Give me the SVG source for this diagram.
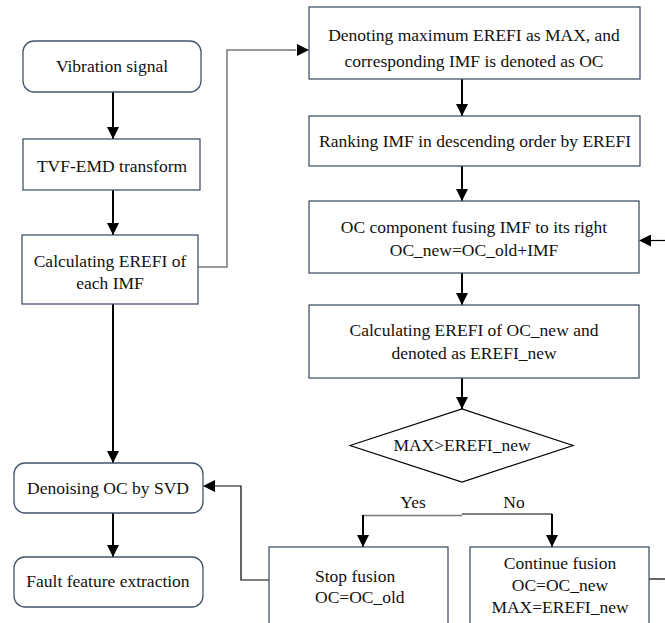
<svg xmlns="http://www.w3.org/2000/svg" width="665" height="623" viewBox="0 0 665 623">
<defs>
<marker id="ah" markerUnits="userSpaceOnUse" markerWidth="12" markerHeight="12" viewBox="0 0 12 12" refX="12" refY="6" orient="auto">
<path d="M0,0 L12,6 L0,12 z" fill="#000"/>
</marker>
</defs>
<style>
.box{fill:#fff;stroke:#44546a;stroke-width:1.3}
.t{font-size:17.5px;fill:#111;text-anchor:middle}
.tl{font-size:17.5px;fill:#111;text-anchor:start}
.a{fill:none;stroke:#000;stroke-width:2;marker-end:url(#ah)}
.g{fill:none;stroke:#7a7a7a;stroke-width:1.5}
.k{fill:none;stroke:#000;stroke-width:1.2}
</style>
<rect width="665" height="623" fill="#fff"/>
<g id="connectors">
<line class="a" x1="113" y1="92" x2="113" y2="139"/>
<line class="a" x1="113" y1="190" x2="113" y2="235"/>
<line class="a" x1="113" y1="304" x2="113" y2="463"/>
<line class="a" x1="113" y1="513" x2="113" y2="557"/>
<path class="g" d="M198,267 H227 V50 H296"/>
<line class="a" x1="290" y1="50" x2="309" y2="50" style="stroke-width:0.1"/>
<line class="a" x1="462" y1="79" x2="462" y2="116"/>
<line class="a" x1="462" y1="166" x2="462" y2="201"/>
<line class="a" x1="462" y1="273" x2="462" y2="305"/>
<line class="a" x1="462" y1="378" x2="462" y2="409"/>
<path class="g" d="M363,515.5 H462"/>
<path class="k" d="M462,514 H552"/>
<line class="a" x1="363" y1="515" x2="363" y2="547"/>
<line class="a" x1="552" y1="514" x2="552" y2="547"/>
<path class="k" d="M269,580 H241 V486 H210"/>
<line class="a" x1="205" y1="486" x2="203" y2="486" style="stroke-width:0.1"/>
<path class="k" d="M649,579 H670"/>
<path class="k" d="M670,240.5 H646"/>
<line class="a" x1="642" y1="240.5" x2="639" y2="240.5" style="stroke-width:0.1"/>
<text class="t" x="413" y="508" style="font-family:'Liberation Serif',serif">Yes</text>
<text class="t" x="514" y="508" style="font-family:'Liberation Serif',serif">No</text>
</g>
<g id="n1"><rect class="box" x="23" y="41" width="178" height="51" rx="11"/><text class="t" x="112" y="72" style="font-family:'Liberation Serif',serif">Vibration signal</text></g>
<g id="n2"><rect class="box" x="23" y="139" width="177" height="51"/><text class="t" x="112" y="172" style="font-family:'Liberation Serif',serif">TVF-EMD transform</text></g>
<g id="n3"><rect class="box" x="22" y="235" width="176" height="69"/><text class="t" x="110" y="267" style="font-family:'Liberation Serif',serif">Calculating EREFI of</text><text class="t" x="110" y="289" style="font-family:'Liberation Serif',serif">each IMF</text></g>
<g id="n4"><rect class="box" x="14" y="463" width="189" height="50" rx="11"/><text class="t" x="108" y="494" style="font-family:'Liberation Serif',serif">Denoising OC by SVD</text></g>
<g id="n5"><rect class="box" x="14" y="557" width="189" height="50" rx="11"/><text class="t" x="108" y="587" style="font-family:'Liberation Serif',serif">Fault feature extraction</text></g>
<g id="n6"><rect class="box" x="309" y="7" width="331" height="72"/><text class="t" x="474" y="41" style="font-family:'Liberation Serif',serif">Denoting maximum EREFI as MAX, and</text><text class="t" x="474" y="67" style="font-family:'Liberation Serif',serif">corresponding IMF is denoted as OC</text></g>
<g id="n7"><rect class="box" x="309" y="116" width="331" height="50"/><text class="t" x="475" y="147" style="font-family:'Liberation Serif',serif">Ranking IMF in descending order by EREFI</text></g>
<g id="n8"><rect class="box" x="309" y="201" width="330" height="72"/><text class="t" x="474" y="233" style="font-family:'Liberation Serif',serif">OC component fusing IMF to its right</text><text class="t" x="474" y="256" style="font-family:'Liberation Serif',serif">OC_new=OC_old+IMF</text></g>
<g id="n9"><rect class="box" x="309" y="305" width="330" height="73"/><text class="t" x="474" y="336" style="font-family:'Liberation Serif',serif">Calculating EREFI of  OC_new and</text><text class="t" x="474" y="359" style="font-family:'Liberation Serif',serif">denoted as EREFI_new</text></g>
<g id="n10"><polygon points="350,445.5 462,409 573,445.5 462,482" fill="#fff" stroke="#000" stroke-width="1.2"/><text class="t" x="462" y="451" style="font-family:'Liberation Serif',serif">MAX&gt;EREFI_new</text></g>
<g id="n11"><rect class="box" x="269" y="547" width="179" height="90"/><text class="tl" x="315" y="582" style="font-family:'Liberation Serif',serif">Stop fusion</text><text class="tl" x="315" y="603" style="font-family:'Liberation Serif',serif">OC=OC_old</text></g>
<g id="n12"><rect class="box" x="470" y="547" width="179" height="90"/><text class="t" x="560" y="569" style="font-family:'Liberation Serif',serif">Continue fusion</text><text class="t" x="560" y="591" style="font-family:'Liberation Serif',serif">OC=OC_new</text><text class="t" x="560" y="613" style="font-family:'Liberation Serif',serif">MAX=EREFI_new</text></g>
</svg>
